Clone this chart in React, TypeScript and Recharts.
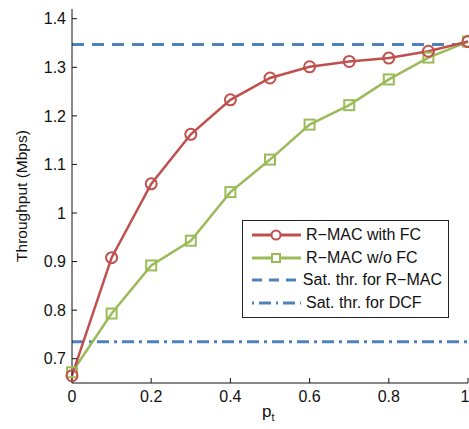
import {
  LineChart,
  Line,
  XAxis,
  YAxis,
  ReferenceLine,
} from 'recharts'

const pt = [0, 0.1, 0.2, 0.3, 0.4, 0.5, 0.6, 0.7, 0.8, 0.9, 1]
const withFC = [0.665, 0.908, 1.06, 1.162, 1.233, 1.278, 1.301, 1.312, 1.319, 1.333, 1.353]
const withoutFC = [0.672, 0.793, 0.892, 0.943, 1.043, 1.11, 1.182, 1.222, 1.275, 1.32, 1.353]
const satRmac = 1.347
const satDcf = 0.735
const xTicks = [0, 0.2, 0.4, 0.6, 0.8, 1]
const yTicks = [0.7, 0.8, 0.9, 1, 1.1, 1.2, 1.3, 1.4]

const RED = '#C0504D'
const GREEN = '#9BBB59'
const BLUE = '#4F81BD'
const FONT = '"Liberation Sans", Arial, sans-serif'

const data = pt.map((p, i) => ({ p, fc: withFC[i], nofc: withoutFC[i] }))

const SquareDot = (props: any) => {
  const { cx, cy } = props
  if (cx == null || cy == null) return <g />
  return (
    <rect x={cx - 5} y={cy - 5} width={10} height={10} fill="none" stroke={GREEN} strokeWidth={2} />
  )
}

const legendItems = [
  { label: 'R\u2212MAC with FC', color: RED, marker: 'circle', dash: undefined },
  { label: 'R\u2212MAC w/o FC', color: GREEN, marker: 'square', dash: undefined },
  { label: 'Sat. thr. for R\u2212MAC', color: BLUE, marker: null, dash: '10 7' },
  { label: 'Sat. thr. for DCF', color: BLUE, marker: null, dash: '2 5 12 5' },
]

const LegendBox = () => (
  <div
    style={{
      position: 'absolute',
      left: 242,
      top: 220,
      width: 191,
      background: 'white',
      border: '1px solid #222',
      padding: '3px 6px 3px 8px',
      fontFamily: FONT,
      fontSize: 16,
      color: '#111',
    }}
  >
    {legendItems.map((it) => (
      <div key={it.label} style={{ display: 'flex', alignItems: 'center', height: 22.5 }}>
        <svg width={52} height={12} style={{ marginRight: 3 }}>
          <line x1={1} y1={6} x2={50} y2={6} stroke={it.color} strokeWidth={3} strokeDasharray={it.dash} />
          {it.marker === 'circle' && <circle cx={25} cy={6} r={4.5} fill="white" stroke={it.color} strokeWidth={2} />}
          {it.marker === 'square' && <rect x={21} y={2} width={8} height={8} fill="white" stroke={it.color} strokeWidth={2} />}
        </svg>
        <span style={{ whiteSpace: 'nowrap' }}>{it.label}</span>
      </div>
    ))}
  </div>
)

const axisTick = { fontSize: 16, fill: '#111', fontFamily: FONT }
const noTick = () => <g />

export default function App() {
  return (
    <div style={{ position: 'absolute', left: 0, top: 0, width: 469, height: 429, background: 'white' }}>
      <LineChart width={469} height={429} data={data} margin={{ top: 9, right: 1, left: 22, bottom: 16 }}>
        <XAxis
          xAxisId="b"
          dataKey="p"
          type="number"
          domain={[0, 1]}
          ticks={xTicks}
          height={30}
          tick={axisTick}
          tickSize={-5}
          tickMargin={13}
          stroke="#111"
        />
        <XAxis
          xAxisId="t"
          dataKey="p"
          type="number"
          orientation="top"
          domain={[0, 1]}
          ticks={xTicks}
          height={0}
          tick={noTick}
          tickSize={-5}
          stroke="#111"
        />
        <YAxis
          yAxisId="l"
          type="number"
          domain={[0.65, 1.42]}
          ticks={yTicks}
          width={50}
          tick={axisTick}
          tickSize={-5}
          tickMargin={11}
          stroke="#111"
          label={{ value: 'Throughput (Mbps)', angle: -90, position: 'insideLeft', offset: -1, fontSize: 15.5, fill: '#111', fontFamily: FONT, style: { textAnchor: 'middle' } }}
        />
        <YAxis
          yAxisId="r"
          type="number"
          orientation="right"
          domain={[0.65, 1.42]}
          ticks={yTicks}
          width={0}
          tick={noTick}
          tickSize={-5}
          stroke="#111"
        />
        <ReferenceLine xAxisId="b" yAxisId="l" y={satRmac} stroke={BLUE} strokeWidth={3} strokeDasharray="12 8" />
        <ReferenceLine xAxisId="b" yAxisId="l" y={satDcf} stroke={BLUE} strokeWidth={3} strokeDasharray="12 5 3 5" />
        <Line
          xAxisId="b"
          yAxisId="l"
          dataKey="nofc"
          stroke={GREEN}
          strokeWidth={2.5}
          dot={<SquareDot />}
          isAnimationActive={false}
        />
        <Line
          xAxisId="b"
          yAxisId="l"
          dataKey="fc"
          stroke={RED}
          strokeWidth={2.5}
          dot={{ r: 5.5, fill: 'none', stroke: RED, strokeWidth: 2 }}
          isAnimationActive={false}
        />
      </LineChart>
      <LegendBox />
      <div style={{ position: 'absolute', left: 262, top: 402, fontFamily: FONT, fontSize: 17, color: '#111' }}>
        p<sub style={{ fontSize: 11 }}>t</sub>
      </div>
    </div>
  )
}
